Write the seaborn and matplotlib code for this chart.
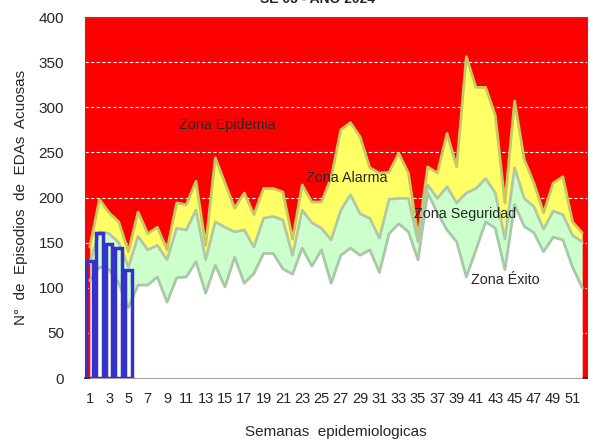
import numpy as np
import pandas as pd
import matplotlib
matplotlib.use("Agg")
import matplotlib.pyplot as plt
import seaborn as sns

# Canal endemico - semanas 1..52
semanas = list(range(1, 53))

exito = [108, 123, 120, 105, 78, 103, 103, 112, 84, 111,
         112, 129, 94, 125, 101, 134, 105, 116, 138, 138,
         121, 115, 144, 124, 142, 105, 136, 144, 136, 142,
         117, 160, 171, 162, 131, 205, 183, 164, 151, 112,
         142, 173, 166, 120, 192, 168, 161, 140, 156, 153,
         123, 100]

seguridad = [128, 162, 160, 150, 123, 157, 142, 147, 131, 166,
             164, 186, 131, 173, 167, 162, 164, 145, 177, 179,
             175, 136, 186, 172, 166, 153, 186, 203, 182, 177,
             155, 198, 199, 199, 151, 214, 199, 212, 194, 205,
             210, 221, 205, 154, 233, 199, 190, 165, 185, 181,
             158, 151]

alarma = [145, 198, 183, 173, 140, 184, 160, 167, 142, 194,
          192, 218, 147, 244, 216, 188, 205, 181, 210, 210,
          206, 154, 214, 195, 195, 222, 275, 283, 267, 233,
          227, 228, 249, 227, 156, 234, 227, 271, 234, 356,
          322, 322, 291, 194, 307, 242, 216, 183, 216, 223,
          173, 161]

# casos observados 2024
semanas_2024 = [1, 2, 3, 4, 5]
casos_2024 = [130, 161, 148, 144, 120]

zonas = ["Zona Epidemia", "Zona Alarma", "Zona Seguridad", "Zona Éxito"]

sns.set_style("white")
plt.rcParams['font.family'] = ['Liberation Sans', 'DejaVu Sans']

fig = plt.figure(figsize=(5.93, 4.44), dpi=100)
ax = fig.add_axes([0.1433, 0.1486, 0.8466, 0.8131])
ax.set_facecolor('#ff0000')

df = pd.DataFrame({'semana': semanas, 'exito': exito,
                   'seguridad': seguridad, 'alarma': alarma})

ax.fill_between(df['semana'], df['seguridad'], df['alarma'], color='#ffff66', zorder=2, lw=0)
ax.fill_between(df['semana'], df['exito'], df['seguridad'], color='#ccffcc', zorder=3, lw=0)
ax.fill_between(df['semana'], 0, df['exito'], color='white', zorder=4, lw=0)

sns.lineplot(data=df, x='semana', y='alarma', color='#c8c860', lw=2, ax=ax, zorder=5)
sns.lineplot(data=df, x='semana', y='seguridad', color='#b0c8a8', lw=2, ax=ax, zorder=5)
sns.lineplot(data=df, x='semana', y='exito', color='#a8c8a8', lw=2, ax=ax, zorder=5)

bars = pd.DataFrame({'semana': semanas_2024, 'casos': casos_2024})
sns.barplot(data=bars, x='semana', y='casos', native_scale=True, fill=False,
            color='#3333cc', linewidth=2.5, width=0.7, ax=ax, zorder=6)

ax.set_xlim(0.5, 52.5)
ax.set_ylim(0, 400)
ax.set_yticks(range(0, 401, 50))
ax.set_xticks(range(1, 53, 2))
ax.tick_params(axis='y', labelsize=11, length=0, pad=15)
ax.tick_params(axis='x', labelsize=10.5, length=0, pad=10)
ax.grid(axis='y', color='white', ls=(0, (3, 2)), lw=0.8)
ax.set_axisbelow(True)
for s in ax.spines.values():
    s.set_color('#555555')
    s.set_linewidth(0.8)
ax.spines['bottom'].set_color('#400000')
ax.spines['bottom'].set_linewidth(1.2)

ax.set_xlabel('Semanas  epidemiologicas', fontsize=11, labelpad=14)
ax.set_ylabel('N°  de  Episodios  de  EDAs  Acuosas', fontsize=11, labelpad=8)

pos = [(15.2, 280), (27.6, 222), (39.9, 182), (44.0, 109)]
for z, (xx, yy) in zip(zonas, pos):
    ax.text(xx, yy, z, fontsize=10.3, ha='center', va='center', zorder=7)

fig.text(0.535, 1.003, 'SE 05 - AÑO 2024', ha='center', va='center',
         fontsize=10, fontweight='bold')

fig.savefig('out.png', dpi=100)
